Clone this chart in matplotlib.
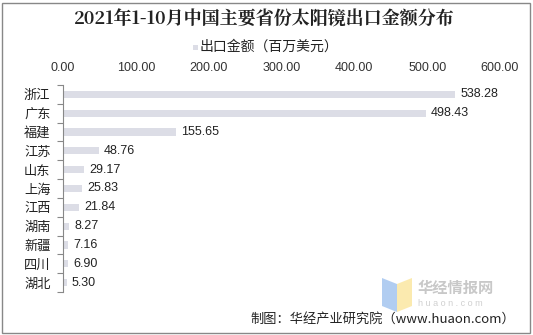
import matplotlib
matplotlib.use("Agg")
import matplotlib.pyplot as plt
from matplotlib.patches import Rectangle, Polygon
import numpy as np

plt.rcParams['font.family'] = ['Noto Sans CJK SC', 'DejaVu Sans']

provinces = ["浙江", "广东", "福建", "江苏", "山东", "上海", "江西", "湖南", "新疆", "四川", "湖北"]
values = [538.28, 498.43, 155.65, 48.76, 29.17, 25.83, 21.84, 8.27, 7.16, 6.90, 5.30]
xticks = [0, 100, 200, 300, 400, 500, 600]
title = "2021年1-10月中国主要省份太阳镜出口金额分布"
legend_label = "出口金额（百万美元）"
source = "制图：华经产业研究院（www.huaon.com）"

NUM = ['Liberation Sans', 'Noto Sans CJK SC']
CJK = ['Noto Sans CJK SC', 'Liberation Sans']

W, H = 533, 335
fig = plt.figure(figsize=(W/100, H/100), dpi=100)
fig.patch.set_facecolor("white")

ax = fig.add_axes([63/W, 1-292/H, (500-63)/W, (292-85)/H])
y = np.arange(len(provinces))
bar_color = "#dcdde6"
ax.barh(y, values, height=0.38, color=bar_color, zorder=2)
ax.set_xlim(0, 600)
ax.set_ylim(len(provinces)-0.5, -0.5)
ax.xaxis.tick_top()
ax.set_xticks(xticks)
ax.set_xticklabels([f"{v:.2f}" for v in xticks], fontsize=9, color="#333333", family=NUM)
ax.tick_params(axis='x', length=0, pad=8)
ax.set_yticks(y)
ax.set_yticklabels(provinces, fontsize=9.5, color="#222222", family=CJK)
ax.set_yticks(np.arange(-0.5, len(provinces), 1), minor=True)
ax.tick_params(axis='y', which='major', length=0, pad=9)
ax.tick_params(axis='y', which='minor', length=4, color="#888888", width=0.8)
for s in ['top', 'right', 'bottom']:
    ax.spines[s].set_visible(False)
ax.spines['left'].set_color("#888888")
ax.spines['left'].set_linewidth(0.8)

for yi, v in zip(y, values):
    ax.text(v + 7, yi, f"{v:.2f}", va='center', ha='left', fontsize=9, color="#222222", family=NUM)

fig.text(0.495, 1-20/H, title, ha='center', va='center', fontsize=13, fontweight='bold',
         family=['Noto Serif CJK SC', 'Noto Sans CJK SC', 'DejaVu Sans'], color="#222222")

# legend
fig.patches.append(Rectangle((193/W, 1-50/H), 5/W, 5/H, transform=fig.transFigure,
                             facecolor=bar_color, edgecolor='none'))
fig.text(200/W, 1-47/H, legend_label, ha='left', va='center', fontsize=10, color="#222222", family=CJK)

# watermark logo
fig.patches.append(Polygon([(382/W, 1-278/H), (397/W, 1-284/H), (397/W, 1-312/H), (382/W, 1-306/H)],
                           closed=True, transform=fig.transFigure, facecolor="#a9c8f0", edgecolor='none', alpha=0.9))
fig.patches.append(Polygon([(397/W, 1-284/H), (412/W, 1-278/H), (412/W, 1-306/H), (397/W, 1-312/H)],
                           closed=True, transform=fig.transFigure, facecolor="#fbe8a6", edgecolor='none', alpha=0.9))
fig.text(418/W, 1-288/H, "华经情报网", ha='left', va='center', fontsize=11, fontweight='bold', color="#c8c8c8", family=CJK)
fig.text(418/W, 1-303/H, "h u a o n . c o m", ha='left', va='center', fontsize=6.5, color="#d0d0d0", family=NUM)

fig.text(515/W, 1-319/H, source, ha='right', va='center', fontsize=9.5, color="#222222", family=CJK)

# outer border
fig.patches.append(Rectangle((2/W, 2/H), (W-5)/W, (H-5)/H, transform=fig.transFigure,
                             facecolor='none', edgecolor="#888888", linewidth=1))

fig.savefig("out.png", dpi=100)
